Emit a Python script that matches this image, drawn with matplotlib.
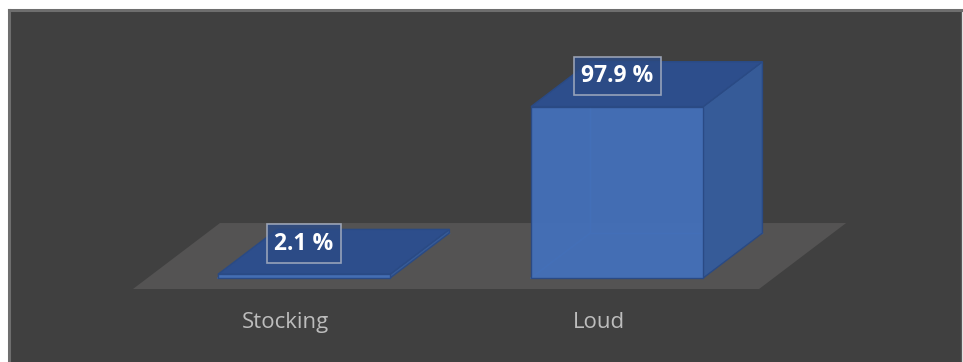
"""Two-category share chart drawn as Excel-style 3D boxes on a floor."""

import matplotlib

matplotlib.use("Agg")
import matplotlib.pyplot as plt
from matplotlib.patches import Polygon

categories = ["Stocking", "Loud"]
shares = [2.1, 97.9]
value_labels = ["2.1 %", "97.9 %"]

# oblique projection: one unit of depth moves a point right and up
DEPTH_X = 0.278
DEPTH_Y = 37.7
BAR_WIDTH = 0.55
BAR_Z0, BAR_Z1 = 0.167, 0.848

PANEL = "#404040"
FLOOR = "#545353"
FRONT = "#4470b9"
TOP = "#2d4e8c"
SIDE = "#365b98"
EDGE = "#2a4a84"


def proj(x, h, z):
    return (x + z * DEPTH_X, h + z * DEPTH_Y)


def face(ax, pts, color, alpha=1.0, z=2):
    ax.add_patch(Polygon([proj(*p) for p in pts], closed=True, facecolor=color,
                         edgecolor=EDGE, linewidth=1.0, alpha=alpha, zorder=z))


fig = plt.figure(figsize=(9.63, 3.62), dpi=100, facecolor="white")
ax = fig.add_axes([9 / 963, 0, 952 / 963, 352 / 362])
ax.set_facecolor(PANEL)
ax.set_xlim(-0.896, 2.145)
ax.set_ylim(-41.7, 159.4)
ax.set_xticks([])
ax.set_yticks([])
for side in ("top", "left"):
    ax.spines[side].set_color("#6e6e6e")
    ax.spines[side].set_linewidth(2.2)
ax.spines["right"].set_color("#595959")
ax.spines["right"].set_linewidth(1.0)
ax.spines["bottom"].set_visible(False)

# floor
n = len(categories)
ax.add_patch(Polygon([proj(-0.5, 0, 0), proj(n - 0.5, 0, 0),
                      proj(n - 0.5, 0, 1), proj(-0.5, 0, 1)],
                     closed=True, facecolor=FLOOR, edgecolor="none", zorder=1))

for i, (cat, val, lab) in enumerate(zip(categories, shares, value_labels)):
    x0, x1 = i - BAR_WIDTH / 2, i + BAR_WIDTH / 2
    # faint back edges seen through the box
    for a, b in [((x0, 0, BAR_Z1), (x1, 0, BAR_Z1)),
                 ((x0, 0, BAR_Z1), (x0, val, BAR_Z1)),
                 ((x0, 0, BAR_Z0), (x0, 0, BAR_Z1))]:
        pa, pb = proj(*a), proj(*b)
        ax.plot([pa[0], pb[0]], [pa[1], pb[1]], color="#3b63a8", lw=1.0, zorder=1.5)
    face(ax, [(x1, 0, BAR_Z0), (x1, 0, BAR_Z1), (x1, val, BAR_Z1), (x1, val, BAR_Z0)], SIDE)
    face(ax, [(x0, val, BAR_Z0), (x1, val, BAR_Z0), (x1, val, BAR_Z1), (x0, val, BAR_Z1)], TOP)
    face(ax, [(x0, 0, BAR_Z0), (x1, 0, BAR_Z0), (x1, val, BAR_Z0), (x0, val, BAR_Z0)],
         FRONT, alpha=0.96, z=2.5)

    cx, cy = proj(i, val, BAR_Z0)
    ax.annotate(lab, (cx, cy), xytext=(0, 22), textcoords="offset points",
                ha="center", va="center", color="white", fontsize=16.5,
                fontweight="bold", family=["Open Sans", "DejaVu Sans"], zorder=5,
                bbox=dict(boxstyle="square,pad=0.32", facecolor="#2c4b85", alpha=0.85,
                          edgecolor="#a9b1c2", linewidth=1.2))

    tx, ty = proj(i, 0, 0)
    ax.text(tx - 0.012, ty - 19, cat, ha="center", va="center", color="#bdbdbd",
            fontsize=16, family=["Open Sans", "DejaVu Sans"], zorder=5)

fig.savefig("out.png", dpi=100, facecolor="white")
